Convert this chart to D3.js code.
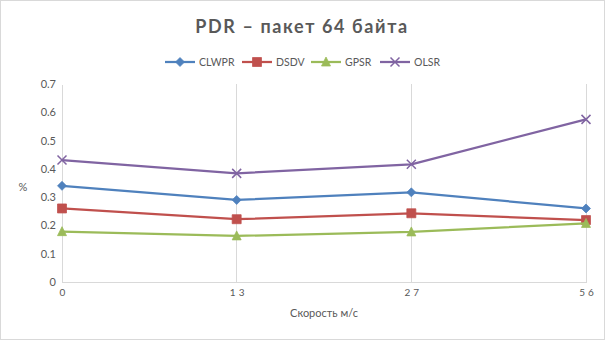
<!DOCTYPE html>
<html><head><meta charset="utf-8">
<script src="https://cdn.jsdelivr.net/npm/d3@7"></script>
<style>body{margin:0;background:#fff}svg{display:block}</style>
</head><body>
<svg id="c" width="605" height="340"></svg>
<script>
const categories = ["0", "13", "27", "56"];
const seriesNames = ["CLWPR", "DSDV", "GPSR", "OLSR"];
const clwpr = [0.34, 0.29, 0.317, 0.26];
const dsdv = [0.26, 0.222, 0.243, 0.219];
const gpsr = [0.178, 0.163, 0.177, 0.207];
const olsr = [0.431, 0.384, 0.416, 0.575];
const yTicks = [0, 0.1, 0.2, 0.3, 0.4, 0.5, 0.6, 0.7];
const colors = ["#4F81BD", "#C0504D", "#9BBB59", "#8064A2"];
const markers = ["diamond", "square", "triangle", "x"];
const seriesValues = [clwpr, dsdv, gpsr, olsr];

const svg = d3.select("#c");
const font = "Lato, 'Open Sans', sans-serif";
const txt = "#595959";

svg.append("rect").attr("x",0.5).attr("y",0.5).attr("width",604).attr("height",339)
  .attr("fill","#fff").attr("stroke","#d9d9d9");

const L = 62, R = 586, T = 84, B = 282;
const x = d3.scalePoint().domain(categories).range([L, R]);
const y = d3.scaleLinear().domain([0, 0.7]).range([B, T]);

svg.append("g").selectAll("line").data(categories.slice(1)).join("line")
  .attr("x1", d => x(d)).attr("x2", d => x(d)).attr("y1", T).attr("y2", B)
  .attr("stroke", "#d9d9d9").attr("stroke-width", 1).attr("shape-rendering","crispEdges");

const yAxis = svg.append("g").attr("transform", `translate(${L},0)`)
  .call(d3.axisLeft(y).tickValues(yTicks).tickSize(0).tickPadding(6).tickFormat(d => d === 0 ? "0" : d3.format(".1f")(d)));
yAxis.select(".domain").attr("stroke", "#d9d9d9").attr("shape-rendering","crispEdges");
yAxis.selectAll("text").attr("fill", txt).style("font-family", font).style("font-size", "11px");

const xAxis = svg.append("g").attr("transform", `translate(0,${B})`)
  .call(d3.axisBottom(x).tickSize(0).tickPadding(7));
xAxis.select(".domain").attr("stroke", "#d9d9d9").attr("shape-rendering","crispEdges");
xAxis.selectAll("text").attr("fill", txt).style("font-family", font).style("font-size", "10px")
  .style("letter-spacing", "3px").attr("dx", "1.5px");

svg.append("text").attr("x", 302).attr("y", 33).attr("text-anchor", "middle")
  .attr("fill", txt).style("font-family", font).style("font-size", "18px").style("font-weight", "bold")
  .style("letter-spacing", "1.6px").text("PDR – пакет 64 байта");

svg.append("text").attr("x", 23).attr("y", 191).attr("text-anchor", "middle")
  .attr("fill", txt).style("font-family", font).style("font-size", "11px").text("%");
svg.append("text").attr("x", (L + R) / 2).attr("y", 317).attr("text-anchor", "middle")
  .attr("fill", txt).style("font-family", font).style("font-size", "11px").text("Скорость м/с");

function markerPath(type) {
  if (type === "diamond") return "M0,-4.5L4.5,0L0,4.5L-4.5,0Z";
  if (type === "square") return "M-4.5,-4.5H4.5V4.5H-4.5Z";
  if (type === "triangle") return "M0,-5L4.5,4L-4.5,4Z";
  return "M-4.5,-4.5L4.5,4.5M-4.5,4.5L4.5,-4.5";
}

const line = d3.line().x((d, i) => x(categories[i])).y(d => y(d));
seriesValues.forEach((vals, s) => {
  const g = svg.append("g");
  g.append("path").datum(vals).attr("d", line).attr("fill", "none")
    .attr("stroke", colors[s]).attr("stroke-width", 2.25).attr("stroke-linejoin","round");
  g.selectAll("path.m").data(vals).join("path").attr("class", "m")
    .attr("transform", (d, i) => `translate(${x(categories[i])},${y(d)})`)
    .attr("d", markerPath(markers[s]))
    .attr("fill", markers[s] === "x" ? "none" : colors[s])
    .attr("stroke", colors[s]).attr("stroke-width", markers[s] === "x" ? 1.5 : 0.75);
});

const legX = [165, 242, 311, 380];
const legY = 62;
seriesNames.forEach((n, s) => {
  const g = svg.append("g");
  g.append("line").attr("x1", legX[s]).attr("x2", legX[s] + 30).attr("y1", legY).attr("y2", legY)
    .attr("stroke", colors[s]).attr("stroke-width", 2.25);
  g.append("path").attr("transform", `translate(${legX[s] + 15},${legY})`).attr("d", markerPath(markers[s]))
    .attr("fill", markers[s] === "x" ? "none" : colors[s])
    .attr("stroke", colors[s]).attr("stroke-width", markers[s] === "x" ? 1.5 : 0.75);
  g.append("text").attr("x", legX[s] + 34).attr("y", legY + 4).attr("fill", txt)
    .style("font-family", font).style("font-size", "10.5px").text(n);
});
</script>
</body></html>
